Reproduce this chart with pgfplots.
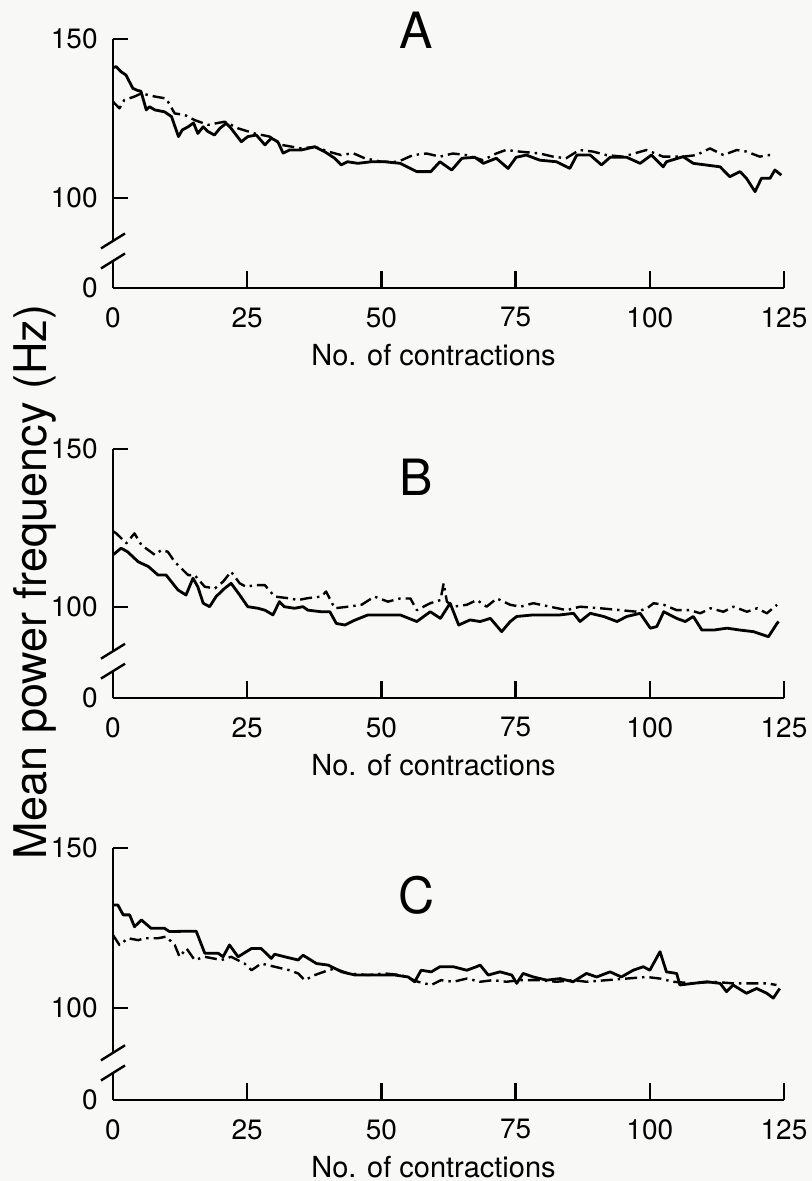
\documentclass[border=0pt]{standalone}
\usepackage{fontspec}
\setmainfont{TeX Gyre Heros}
\usepackage{pgfplots}
\pgfplotsset{compat=1.18}
\definecolor{bg}{RGB}{248,248,246}
\tikzset{fr/.style={line width=1.2pt, black}}
\pgfplotsset{
  panel/.style={
    scale only axis, width=335.5pt,
    xmin=0, xmax=125, ymax=150,
    axis lines=left,
    axis line style={-, line width=1.2pt, black},
    y axis line style={draw=none},
    xtick={0,25,50,75,100,125},
    major tick length=0pt,
    x tick label style={font=\fontsize{14}{16}\selectfont, anchor=north, inner sep=0pt, yshift=-9.5pt},
    y tick label style={font=\fontsize{14}{16}\selectfont, anchor=east, inner sep=0pt, xshift=-7.5pt},
    /pgf/number format/assume math mode=true,
    clip=false,
  },
  solidline/.style={black, line width=1.4pt, line join=round, mark=none},
  dashline/.style={black, line width=1.2pt, line join=round, mark=none, dash pattern=on 6pt off 2.5pt on 1.2pt off 2.5pt},
}
% #1 upper end, #2/#3 upper slash y, #4 lower start, #5/#6 lower slash y, #7 ymin, #8 tick top
\newcommand{\panelframe}[8]{%
  \draw[fr] (axis cs:0,150) -- (axis cs:0,#1);
  \draw[fr] (axis cs:0,#4) -- (axis cs:0,#7);
  \draw[fr] (axis cs:-2.24,#2) -- (axis cs:2.24,#3);
  \draw[fr] (axis cs:-2.24,#5) -- (axis cs:2.24,#6);
  \draw[fr] (axis cs:0,150) -- (axis cs:2.8,150);
  \draw[fr] (axis cs:0,100) -- (axis cs:2.8,100);
  \draw[fr] (axis cs:25,#7) -- (axis cs:25,#8);
  \draw[fr] (axis cs:50,#7) -- (axis cs:50,#8);
  \draw[fr] (axis cs:75,#7) -- (axis cs:75,#8);
  \draw[fr] (axis cs:100,#7) -- (axis cs:100,#8);
  \draw[fr] (axis cs:125,#7) -- (axis cs:125,#8);
}
\begin{document}
\begin{tikzpicture}
\fill[bg] (0pt,0pt) rectangle (406pt,-590.5pt);
\path[use as bounding box] (0pt,0pt) rectangle (406pt,-590.5pt);
\node[rotate=90, font=\fontsize{22.5}{27}\selectfont] at (17.5pt,-291pt) {Mean power frequency (Hz)};

% ---------------- Panel A
\begin{axis}[panel, at={(56.5pt,-144pt)}, anchor=south west, height=124.5pt,
  ymin=71.7, ytick={71.7,100,150}, yticklabels={0,100,150}]
\addplot[solidline] coordinates {
(0,141) (0.6,141.3) (1.5,139.7) (2.4,138.7) (3.7,134.5) (4.6,133.8) (5.2,133.6) (6.2,127.7) (6.8,128.7) (7.8,127.7) (9.6,127.1) (10.9,125.6) (12.2,119.3) (12.9,121.4) (14,122.4) (15,123.6) (15.8,120.3) (16.8,122.4) (17.7,120.9) (18.9,119.8) (19.9,121.9) (21.1,123.5) (22,121.9) (23.9,117.7) (25.1,119.3) (26.7,119.8) (28.3,116.7) (29.5,118.8) (30.7,117.7) (31.7,114.1) (32.9,115.1) (35.1,115.1) (37.6,116.1) (39.4,114.6) (41.3,112.5) (42.5,110.4) (43.7,111.4) (45.6,110.9) (48.1,111.4) (50.6,111.4) (53.5,110.9) (56.6,108.3) (59.2,108.3) (60.9,111.4) (63.1,108.8) (65,112.5) (67.4,112.8) (69,110.9) (71.4,112.5) (73.6,109.3) (75.1,112.8) (77,113.5) (79.5,111.9) (82.6,111.4) (85.1,109.3) (86.4,113.5) (88.9,113.5) (91,110.4) (92.6,112.8) (95.7,112.8) (98.2,110.9) (100.3,113.5) (102.5,109.8) (103.1,111.4) (106.2,113) (108.1,110.9) (113.1,109.8) (114.9,106.7) (116.8,108.3) (118,106.2) (119.6,102) (120.8,106.2) (122.4,106.2) (123.3,108.8) (124.5,107.2)
};
\addplot[dashline] coordinates {
(0,130.3) (1.2,128.2) (2.1,130.8) (4,131.9) (5.3,132.9) (7.8,131.9) (9.9,131.3) (11.5,126.6) (13.4,126.1) (15.2,124.5) (17.7,123) (20.8,124) (23.3,121.9) (26.4,120.3) (29.2,119.3) (31.4,116.7) (35.1,115.6) (37.6,116.1) (40.1,114.6) (42.5,113.5) (44.7,114.1) (46.9,112.5) (50,111.4) (53.1,111.4) (55.9,113.5) (58.4,114) (60.9,113) (63.3,114) (65.8,113.5) (68.9,111.9) (71.4,114) (73.2,115.1) (75.7,114.6) (79.5,114) (82,113) (84.4,112.5) (86.9,115.1) (89.4,114.6) (91.9,113.5) (95,113) (99.4,115.1) (102.5,113) (106.2,113) (108.7,113.5) (111.2,115.6) (113.7,113.5) (116.2,115.1) (118,114.6) (120.5,113) (121.8,113.5) (123,113.5)
};
\panelframe{86.5}{84.15}{88.85}{80.2}{77.85}{82.55}{71.7}{77}
\node[font=\fontsize{25}{30}\selectfont] at (axis cs:56.5,152.8) {A};
\node[anchor=north, inner sep=0pt, yshift=-28pt, font=\fontsize{14.5}{17}\selectfont] at (axis cs:59.7,71.7) {No. of contractions};
\end{axis}

% ---------------- Panel B
\begin{axis}[panel, at={(56.5pt,-349pt)}, anchor=south west, height=124.5pt,
  ymin=71.2, ytick={71.2,100,150}, yticklabels={0,100,150}]
\addplot[solidline] coordinates {
(0,116.5) (1.5,118.6) (2.7,117.5) (4.7,114.3) (6.6,112.8) (8.4,110.1) (9.9,110.1) (12.1,105.4) (13.6,103.8) (14.9,109.1) (15.8,106.4) (16.8,101.2) (18,100.1) (19.2,103.3) (20.8,105.9) (22,107.5) (23.6,103.8) (25.1,100.1) (27,99.6) (28.3,99) (29.8,97.5) (31,101.7) (31.9,100.1) (33.8,99.6) (35.4,100.1) (36.3,99) (38.8,98.5) (40.4,98.5) (41.6,94.8) (43.2,94.3) (45,95.8) (47.5,97.5) (52.5,97.5) (53.5,97.5) (56.6,95.4) (59.1,98.5) (61,96.4) (62.8,101.2) (64.4,94.3) (66.5,95.9) (68.4,95.4) (70.3,96.4) (72.4,92.2) (74,95.4) (75.2,97) (78.3,97.5) (83.3,97.5) (85.8,98) (87,95.4) (88.9,98) (91.4,97) (93.9,95.4) (95.7,97) (98.2,98) (100.1,93.3) (101.3,93.8) (102.6,98.5) (105,96.4) (106.6,95.4) (108.1,97) (109.7,92.7) (111.9,92.7) (114.4,93.3) (116.8,92.7) (119.3,92.2) (122.1,90.6) (123.7,94.8) (124,95.4)
};
\addplot[dashline] coordinates {
(0,124) (0.6,123.3) (2.5,120.2) (4,123.3) (5.3,119.6) (7.8,116.5) (9,118) (10.2,117.5) (11.5,114.3) (14,110.1) (15.2,110.1) (17.1,106.4) (19,105.9) (20.5,108) (22,111.2) (23.6,107.5) (24.8,106.4) (26.4,106.9) (28.3,106.9) (30.1,103.3) (32.6,102.8) (34.5,102.2) (36.3,102.8) (38.8,103.3) (39.7,104.9) (41.3,99.6) (43.8,100.1) (46.3,100.7) (48.7,103.3) (51.2,101.7) (53.5,102.7) (55.4,102.7) (56.6,99) (59.1,101.2) (61,102.2) (61.6,107.5) (62.2,101.7) (63.4,100.1) (65.9,100.7) (67.8,102.2) (69.6,100.1) (71.5,102.7) (74,100.7) (75.9,100.1) (78.3,101.2) (81.4,100.1) (84.5,99) (87,100.1) (90.8,99.6) (94.5,99) (97.6,98.5) (99.5,99.6) (100.7,101.2) (102.6,100.7) (105,99) (107.5,99) (109.4,98) (111.3,99.6) (113.7,98.5) (115.6,100.1) (118.1,98.5) (120,99.6) (121.8,98) (123.7,100.7)
};
\panelframe{86}{83.65}{88.35}{79.7}{77.35}{82.05}{71.2}{76.5}
\node[font=\fontsize{25}{30}\selectfont] at (axis cs:56.5,141.1) {B};
\node[anchor=north, inner sep=0pt, yshift=-28pt, font=\fontsize{14.5}{17}\selectfont] at (axis cs:59.7,71.2) {No. of contractions};
\end{axis}

% ---------------- Panel C
\begin{axis}[panel, at={(56.5pt,-550pt)}, anchor=south west, height=126pt,
  ymin=71.25, ytick={71.25,100,150}, yticklabels={0,100,150}]
\addplot[solidline] coordinates {
(0,132.2) (0.9,132.2) (1.9,129.1) (3.1,129.1) (4,125.4) (5.3,127.5) (7.1,124.9) (9.6,124.9) (10.5,123.9) (14.3,124) (15.5,124) (17.1,117.1) (19.6,117.1) (20.5,116) (21.7,119.7) (23.3,116) (25.8,118.6) (27.6,118.6) (29.5,115.5) (30.1,116.8) (32,116) (34.5,115) (35.4,116.5) (37.9,113.9) (40.1,113.4) (42.6,111.3) (45.1,110.3) (48.8,110.3) (52.5,110.3) (55,109.7) (56.2,108.2) (57.4,111.8) (59.3,111.3) (60.9,112.9) (63.4,112.9) (65.9,111.8) (67.7,112.9) (68.4,113.4) (69.9,110.3) (72.1,111.3) (74.3,110.3) (75.2,107.7) (76.4,110.8) (78.3,109.7) (80.8,108.7) (83.3,109.2) (85.7,108.2) (88.2,110.8) (90.1,109.7) (92.6,111.3) (94.7,109.7) (96.9,111.8) (98.8,112.9) (100,111.8) (101.9,117.6) (103.1,111.3) (105,110.8) (105.6,107.2) (108.1,107.7) (110.6,108.2) (113.1,107.7) (114.3,105.1) (115.5,107.2) (118,104.6) (119.9,106.1) (121.8,104.6) (123,103.1) (124.2,106.1)
};
\addplot[dashline] coordinates {
(0,122.8) (1.2,119.7) (2.8,121.8) (4.7,121.2) (5.9,121.8) (8.4,121.8) (9.9,122.3) (11.5,119.7) (12.4,116) (13.7,118.6) (15.2,115) (17.1,116) (20.2,115) (22,116) (24.5,113.9) (25.8,111.8) (27.6,113.9) (30.1,112.9) (32.9,111.8) (34.5,110.8) (35.7,108.7) (37.6,110.3) (40.1,111.8) (41.3,112.3) (43.8,110.8) (47.5,110.3) (50.6,110.8) (53.7,110.3) (56.8,108.2) (59.3,107.2) (61.1,108.7) (63.4,108.2) (65.9,109.2) (68.4,108.2) (70.8,108.7) (73.3,108.2) (75.8,108.7) (79.5,108.7) (82.6,108.2) (85.7,108.7) (88.2,108.2) (92,108.7) (95.7,109.2) (99.4,109.7) (101.9,109.2) (104.4,108.2) (108.1,107.7) (111.8,108.2) (115.5,107.7) (119.3,107.7) (121.8,107.7) (123.6,107.2)
};
\panelframe{86}{83.65}{88.35}{79.7}{77.35}{82.05}{71.25}{76.55}
\node[font=\fontsize{25}{30}\selectfont] at (axis cs:56.5,135.3) {C};
\node[anchor=north, inner sep=0pt, yshift=-28pt, font=\fontsize{14.5}{17}\selectfont] at (axis cs:59.7,71.25) {No. of contractions};
\end{axis}
\end{tikzpicture}
\end{document}
